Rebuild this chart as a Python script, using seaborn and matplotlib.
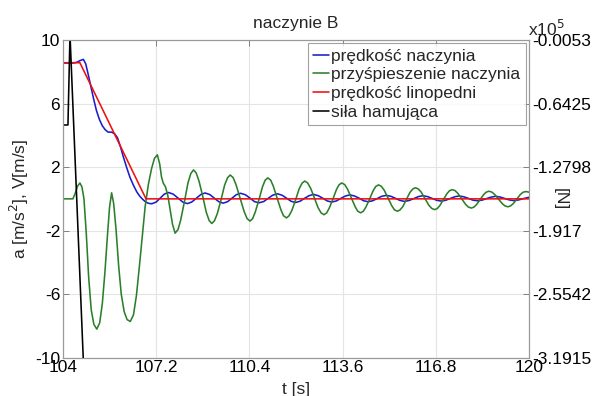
import matplotlib
matplotlib.use("Agg")
import matplotlib.pyplot as plt
import seaborn as sns
import pandas as pd

# ---- time series (t in seconds) ----
t_blue = [104.0, 104.35, 104.48, 104.58, 104.7, 104.78, 104.87, 104.96, 105.05, 105.15,
          105.25, 105.35, 105.45, 105.55, 105.67, 105.77, 105.87, 105.97, 106.07, 106.19,
          106.3, 106.42, 106.53, 106.63, 106.72, 106.82, 106.93, 107.05,
          107.2, 107.34, 107.48, 107.62, 107.78, 107.95, 108.11, 108.27, 108.42, 108.58,
          108.73, 108.88, 109.04, 109.19, 109.35, 109.5, 109.65, 109.8, 109.95, 110.1,
          110.26, 110.42, 110.57, 110.73, 110.89, 111.05, 111.2, 111.36, 111.52, 111.67,
          111.83, 111.98, 112.14, 112.29, 112.45, 112.6, 112.76, 112.92, 113.07, 113.23,
          113.39, 113.54, 113.7, 113.85, 114.01, 114.17, 114.32, 114.48, 114.63, 114.79,
          114.94, 115.1, 115.26, 115.42, 115.57, 115.73, 115.89, 116.05, 116.2, 116.36,
          116.52, 116.67, 116.83, 116.98, 117.14, 117.29, 117.45, 117.6, 117.76, 117.92,
          118.07, 118.23, 118.39, 118.55, 118.7, 118.86, 119.02, 119.17, 119.33, 119.48,
          119.64, 119.8, 120.0]
v_vessel = [8.55, 8.55, 8.6, 8.7, 8.78, 8.5, 7.8, 7.05, 6.3, 5.55,
            5.0, 4.6, 4.35, 4.2, 4.2, 4.1, 3.85, 3.3, 2.65, 1.95,
            1.35, 0.85, 0.45, 0.18, 0.0, -0.17, -0.28, -0.31,
            -0.2, 0.05, 0.3, 0.40, 0.3, 0.05, -0.2, -0.30, -0.2, 0.04,
            0.27, 0.37, 0.27, 0.05, -0.18, -0.27, -0.18, 0.04, 0.26, 0.35,
            0.26, 0.05, -0.17, -0.25, -0.17, 0.04, 0.23, 0.32, 0.23, 0.05,
            -0.15, -0.23, -0.15, 0.03, 0.2, 0.28, 0.2, 0.04, -0.13, -0.2,
            -0.13, 0.03, 0.18, 0.25, 0.18, 0.04, -0.12, -0.18, -0.12, 0.02,
            0.16, 0.22, 0.16, 0.03, -0.1, -0.16, -0.1, 0.02, 0.14, 0.2,
            0.14, 0.03, -0.09, -0.14, -0.09, 0.02, 0.13, 0.18, 0.13, 0.03,
            -0.08, -0.12, -0.08, 0.02, 0.11, 0.16, 0.11, 0.02, -0.07, -0.11,
            -0.07, 0.01, 0.1]

t_green = [104.0, 104.34, 104.42, 104.5, 104.58, 104.65, 104.72, 104.8, 104.88, 104.97,
           105.06, 105.16, 105.26, 105.35, 105.44, 105.53, 105.6, 105.67, 105.74, 105.82,
           105.91, 106.0, 106.1, 106.2, 106.31, 106.42, 106.52, 106.62, 106.72, 106.82,
           106.93, 107.04, 107.14, 107.24, 107.32, 107.38, 107.44, 107.52, 107.6, 107.68,
           107.76, 107.85,
           107.95, 108.04, 108.17, 108.29, 108.39, 108.48,
           108.57, 108.67, 108.8, 108.92, 109.02, 109.11,
           109.2, 109.3, 109.43, 109.55, 109.65, 109.74,
           109.84, 109.94, 110.08, 110.22, 110.32, 110.42,
           110.51, 110.6, 110.73, 110.85, 110.94, 111.03,
           111.13, 111.22, 111.35, 111.48, 111.57, 111.67,
           111.76, 111.86, 111.99, 112.11, 112.21, 112.3,
           112.4, 112.5, 112.63, 112.76, 112.86, 112.96,
           113.05, 113.14, 113.27, 113.39, 113.48, 113.57,
           113.67, 113.77, 113.9, 114.03, 114.12, 114.22,
           114.31, 114.4, 114.53, 114.65, 114.74, 114.83,
           114.93, 115.03, 115.16, 115.29, 115.38, 115.48,
           115.57, 115.67, 115.79, 115.91, 116.01, 116.1,
           116.2, 116.3, 116.43, 116.56, 116.66, 116.76,
           116.85, 116.94, 117.06, 117.18, 117.27, 117.36,
           117.46, 117.56, 117.69, 117.82, 117.92, 118.02,
           118.11, 118.2, 118.32, 118.44, 118.53, 118.62,
           118.72, 118.82, 118.95, 119.08, 119.18, 119.28,
           119.37, 119.46, 119.58, 119.7, 119.8, 119.9, 120.0]
a_vessel = [0.0, 0.0, 0.35, 0.8, 1.0, 0.75, 0.0, -2.2, -4.9, -7.0,
            -7.9, -8.2, -7.8, -6.6, -4.6, -2.2, -0.5, 0.38, -0.3, -1.9,
            -4.2, -6.0, -7.1, -7.6, -7.72, -7.3, -6.1, -4.3, -2.4, -0.5,
            0.9, 1.9, 2.55, 2.77, 2.2, 1.4, 1.0, 0.75, 0.2, -0.7,
            -1.6, -2.16,
            -1.93, -1.34, -0.17, 1.0, 1.6, 1.82,
            1.64, 1.12, 0.14, -0.85, -1.37, -1.55,
            -1.38, -0.92, -0.03, 0.87, 1.33, 1.5,
            1.34, 0.9, 0.05, -0.8, -1.24, -1.4,
            -1.25, -0.84, -0.04, 0.76, 1.17, 1.32,
            1.18, 0.8, 0.06, -0.68, -1.06, -1.2,
            -1.07, -0.72, -0.04, 0.64, 0.99, 1.12,
            1.0, 0.68, 0.06, -0.56, -0.88, -1.0,
            -0.89, -0.59, 0.0, 0.59, 0.89, 1.0,
            0.9, 0.61, 0.06, -0.49, -0.78, -0.88,
            -0.78, -0.52, 0.0, 0.52, 0.78, 0.88,
            0.79, 0.54, 0.05, -0.44, -0.69, -0.78,
            -0.7, -0.48, -0.04, 0.4, 0.62, 0.7,
            0.62, 0.42, 0.01, -0.4, -0.6, -0.68,
            -0.61, -0.42, -0.05, 0.32, 0.51, 0.58,
            0.52, 0.34, 0.0, -0.34, -0.52, -0.58,
            -0.52, -0.36, -0.05, 0.26, 0.42, 0.48,
            0.43, 0.28, -0.01, -0.3, -0.45, -0.5,
            -0.44, -0.3, -0.02, 0.27, 0.42, 0.46, 0.42]

t_red = [104.0, 104.58, 106.85, 120.0]
v_rope = [8.57, 8.57, 0.0, 0.0]

t_force = [104.0, 104.17, 104.24, 104.75]
f_brake = [-85760.0, -85760.0, 5000.0, -359000.0]

# ---- axis ticks ----
x_ticks = [104, 107.2, 110.4, 113.6, 116.8, 120]
x_tick_labels = ["104", "107.2", "110.4", "113.6", "116.8", "120"]
y_ticks = [-10, -6, -2, 2, 6, 10]
f_ticks = [-319150, -255420, -191700, -127980, -64250, -530]
f_tick_labels = ["-3.1915", "-2.5542", "-1.917", "-1.2798", "-0.6425", "-0.0053"]

labels = ["prędkość naczynia", "przyśpieszenie naczynia", "prędkość linopedni", "siła hamująca"]
colors = ["#1c1cc8", "#2a802a", "#ee1010", "#000000"]

sns.set_theme(style="white")
plt.rcParams["font.family"] = ["Liberation Sans", "DejaVu Sans"]
plt.rcParams["axes.unicode_minus"] = False
FS = 12.5

fig = plt.figure(figsize=(6.0, 3.96), dpi=100)
ax = fig.add_axes([63 / 600, 1 - 357.7 / 396, 466 / 600, 317.7 / 396])

df_b = pd.DataFrame({"t": t_blue, "v": v_vessel})
df_g = pd.DataFrame({"t": t_green, "a": a_vessel})
df_r = pd.DataFrame({"t": t_red, "v": v_rope})
df_f = pd.DataFrame({"t": t_force, "F": f_brake})

lw = 1.15
sns.lineplot(data=df_b, x="t", y="v", ax=ax, color=colors[0], lw=lw, estimator=None, sort=False)
sns.lineplot(data=df_g, x="t", y="a", ax=ax, color=colors[1], lw=lw, estimator=None, sort=False)
sns.lineplot(data=df_r, x="t", y="v", ax=ax, color=colors[2], lw=lw, estimator=None, sort=False)

ax.set_xlim(104, 120)
ax.set_ylim(-10, 10)
ax.set_xticks(x_ticks)
ax.set_xticklabels(x_tick_labels)
ax.set_yticks(y_ticks)
ax.grid(True, color="#e4e4e4", lw=0.8)
ax.tick_params(axis="both", direction="in", length=4, width=0.7, color="#808080",
               labelsize=FS, pad=2, labelcolor="black", top=True)
for s in ax.spines.values():
    s.set_color("#9a9a9a")
    s.set_linewidth(0.8)

ax.set_xlabel("t [s]", fontsize=FS)
ax.xaxis.set_label_coords(0.5, -0.075)
ax.set_ylabel("a [m/s$^2$], V[m/s]", fontsize=FS)
ax.yaxis.set_label_coords(-0.068, 0.5)
ax.set_title("naczynie B", fontsize=FS, pad=8.5)

ax2 = ax.twinx()
sns.lineplot(data=df_f, x="t", y="F", ax=ax2, color=colors[3], lw=lw, estimator=None, sort=False)
ax2.set_ylim(-319150, -530)
ax2.set_yticks(f_ticks)
ax2.set_yticklabels(f_tick_labels)
ax2.tick_params(axis="y", direction="in", length=4, width=0.7, color="#808080",
                labelsize=FS, pad=2, labelcolor="black")
for s in ax2.spines.values():
    s.set_color("#9a9a9a")
    s.set_linewidth(0.8)
ax2.set_ylabel("[N]", fontsize=FS, rotation=-90, va="center")
ax2.yaxis.set_label_coords(1.068, 0.5)
ax2.set_xlabel("")
fig.text(528 / 600, 1 - 36 / 396, "x10$^5$", fontsize=FS, va="baseline", ha="left")

handles = ax.get_lines()[:3] + ax2.get_lines()[:1]
leg = ax2.legend(handles, labels, loc="upper right", bbox_to_anchor=(1.0, 1.0),
                 fontsize=FS, frameon=True, fancybox=False, borderaxespad=0.2,
                 handlelength=0.9, handletextpad=0.15, labelspacing=0.2,
                 borderpad=0.3)
leg.get_frame().set_edgecolor("#8a8a8a")
leg.get_frame().set_linewidth(0.8)

fig.savefig("out.png", dpi=100)
